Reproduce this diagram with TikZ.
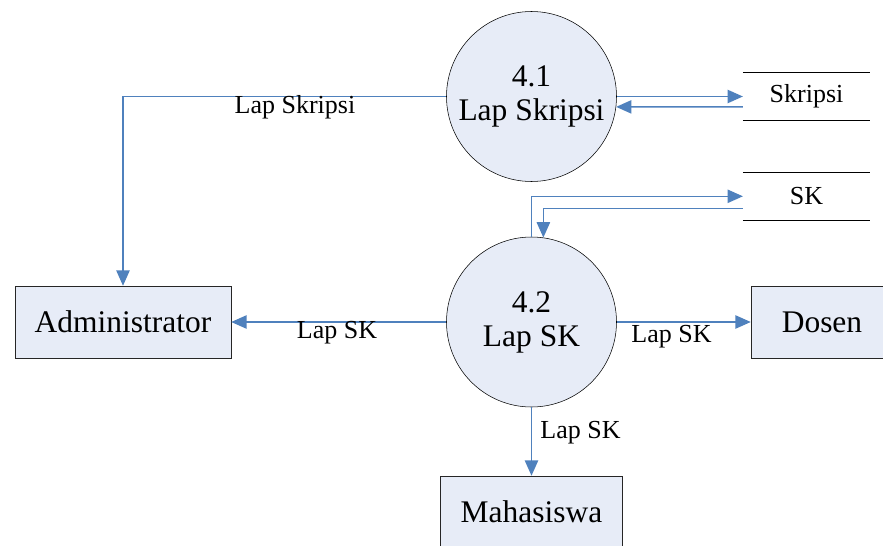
\documentclass[tikz,border=0pt]{standalone}
\usepackage{fontspec}
\setmainfont{Liberation Serif}
\usetikzlibrary{arrows.meta}

\definecolor{procfill}{RGB}{231,236,247}
\definecolor{flowblue}{RGB}{79,129,189}

\tikzset{
  process/.style={circle, draw=black, fill=procfill, minimum size=127.5pt,
    inner sep=0pt, align=center, font=\fontsize{23.6}{25.5}\selectfont},
  entity/.style={rectangle, draw=black!85, fill=procfill, minimum height=54pt,
    inner sep=0pt, font=\fontsize{23.6}{25.5}\selectfont},
  store/.style={rectangle, minimum width=95pt, minimum height=35.5pt,
    inner sep=0pt, font=\fontsize{19.5}{22}\selectfont},
  flowlabel/.style={inner sep=0pt, font=\fontsize{19.5}{22}\selectfont},
  flow/.style={draw=flowblue, line width=1pt,
    -{Triangle[length=11.5pt,width=10pt]}}
}

\begin{document}
\begin{tikzpicture}[x=0.75pt,y=-0.75pt]

    \clip (0,0) rectangle (883,546);
    \fill[white] (0,0) rectangle (883,546);

    % processes
    \node[process] (p41) at (531.5,96.5) {4.1\\Lap Skripsi};
    \node[process] (p42) at (531.5,322) {4.2\\Lap SK};

    % external entities
    \node[entity, minimum width=162pt] (admin) at (123,322) {Administrator};
    \node[entity, minimum width=106.5pt] (dosen) at (822,322) {Dosen};
    \node[entity, minimum width=136.5pt] (mhs) at (531.5,512) {Mahasiswa};

    % data stores
    \node[store] (skripsi) at (806.5,96.5) {Skripsi};
    \draw (skripsi.north west) -- (skripsi.north east);
    \draw (skripsi.south west) -- (skripsi.south east);

    \node[store] (sk) at (806.5,196.3) {SK};
    \draw (sk.north west) -- (sk.north east);
    \draw (sk.south west) -- (sk.south east);

    % flows
    \draw[flow] (p41.west) -| (admin.north);
    \draw[flow] (p41.east) -- (skripsi.west);
    \draw[flow] ([yshift=-7.8pt]skripsi.west) -- (p41.-7);

    \draw[flow] (p42.north) |- (sk.west);
    \draw[flow] ([yshift=-9pt]sk.west) -| (p42.82);

    \draw[flow] (p42.west) -- (admin.east);
    \draw[flow] (p42.east) -- (dosen.west);
    \draw[flow] (p42.south) -- (mhs.north);

    % labels
    \node[flowlabel] (lblskripsi) at (295,107) {Lap Skripsi};
    \node[flowlabel] (lbladmin) at (337,333) {Lap SK};
    \node[flowlabel] (lbldosen) at (671.5,337) {Lap SK};
    \node[flowlabel] (lblmhs) at (580.5,433) {Lap SK};

  \end{tikzpicture}
\end{document}
